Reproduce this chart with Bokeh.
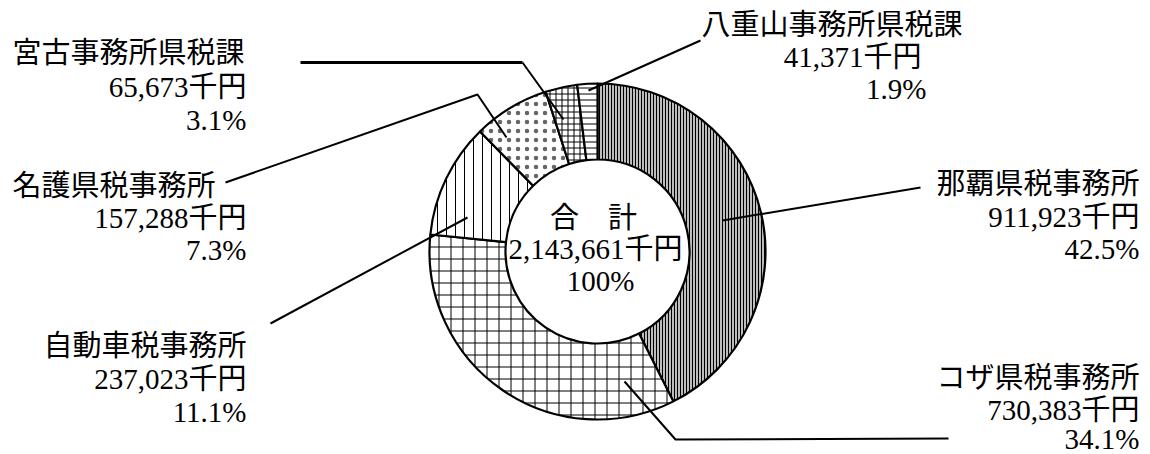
import math
from bokeh.plotting import figure
from bokeh.models import ColumnDataSource, Range1d
from bokeh.core.properties import value
from bokeh.embed import file_html
from bokeh.resources import INLINE

# ---- data ----
categories = ["那覇県税事務所", "コザ県税事務所", "自動車税事務所", "名護県税事務所", "宮古事務所県税課", "八重山事務所県税課"]
amounts = [911923, 730383, 237023, 157288, 65673, 41371]   # 千円
percents = [42.5, 34.1, 11.1, 7.3, 3.1, 1.9]
total_label = "合　計"
unit = "千円"

# ---- styles (per slice) ----
hatches = ["vertical_line", "cross", "vertical_line", "dot", "cross", "horizontal_line"]
hatch_scales = [3, 12, 9, 9, 6, 6]
hatch_colors = ["black", "black", "black", "#666666", "black", "black"]
hatch_weights = [1, 1, 1, 0.5, 1, 1]
fills = ["#bdbdbd", "white", "white", "white", "white", "white"]

W, H = 1150, 454
FONT = "'Liberation Serif', 'Noto Sans CJK JP'"
FS = "29px"

p = figure(width=W, height=H, output_backend="svg", toolbar_location=None,
           x_range=Range1d(0, W), y_range=Range1d(0, H),
           min_border=0, border_fill_color="white", background_fill_color="white")
p.axis.visible = False
p.grid.visible = False
p.outline_line_color = None

def Y(y_page):
    return H - y_page

# donut geometry
cx, cy = 597, Y(251)
r_out, r_in = 168, 92

tot = sum(amounts)
starts, ends = [], []
acc = 0.0
for a in amounts:
    a0 = acc / tot * 2 * math.pi
    acc += a
    a1 = acc / tot * 2 * math.pi
    # clockwise from 12 o'clock -> math angles
    starts.append(math.pi / 2 - a1)
    ends.append(math.pi / 2 - a0)

src = ColumnDataSource(dict(x=[cx] * len(amounts), y=[cy] * len(amounts),
                            start=starts, end=ends, hatch=hatches,
                            hscale=hatch_scales, hcolor=hatch_colors,
                            hweight=hatch_weights, fill=fills))
p.annular_wedge(x="x", y="y", inner_radius=r_in, outer_radius=r_out,
                start_angle="start", end_angle="end", direction="anticlock",
                source=src, fill_color="fill", line_color="black", line_width=2.2,
                hatch_pattern="hatch", hatch_scale="hscale", hatch_color="hcolor",
                hatch_weight="hweight")

# ---- leader lines (layout, page pixels) ----
leaders = [
    [(920, 187), (722, 220)],                 # 那覇
    [(948, 438), (675, 439), (624, 381)],     # コザ
    [(270, 323), (467, 217)],                 # 自動車
    [(225, 182), (477, 94), (506, 137)],      # 名護
    [(522, 62), (563, 119)],                  # 宮古
    [(700, 40), (588, 90)],                   # 八重山
]
for seg in leaders:
    p.line([q[0] for q in seg], [Y(q[1]) for q in seg], line_color="black", line_width=2)
p.line([300, 522], [Y(62), Y(62)], line_color="black", line_width=3.2)

# ---- labels (layout) ----
label_pos = [
    [(1139, "right", 183), (1139, "right", 216), (1139, "right", 248)],
    [(1139, "right", 377), (1139, "right", 409), (1139, "right", 438)],
    [(246, "right", 345), (246, "right", 378), (246, "right", 411)],
    [(12, "left", 185), (246, "right", 217), (246, "right", 249)],
    [(12, "left", 52), (246, "right", 86), (246, "right", 119)],
    [(701, "left", 24), (921, "right", 56), (926, "right", 88)],
]
tx, ty, tt, ta = [], [], [], []
for i, cat in enumerate(categories):
    lines = [cat, f"{amounts[i]:,}{unit}", f"{percents[i]}%"]
    for (x, al, y), s in zip(label_pos[i], lines):
        tx.append(x); ty.append(Y(y)); tt.append(s); ta.append(al)

lsrc = ColumnDataSource(dict(x=tx, y=ty, text=tt, align=ta))
p.text(x="x", y="y", text="text", text_align="align", text_baseline="middle",
       source=lsrc, text_font=value(FONT), text_font_size=FS, text_color="black")

# center labels
center_text = [total_label, f"{tot:,}{unit}", "100%"]
p.text(x=[593, 595, 600], y=[Y(217), Y(248), Y(280)], text=center_text,
       text_align="center", text_baseline="middle",
       text_font=value(FONT), text_font_size=FS, text_color="black")

open("out.html", "w").write(file_html(p, INLINE))
